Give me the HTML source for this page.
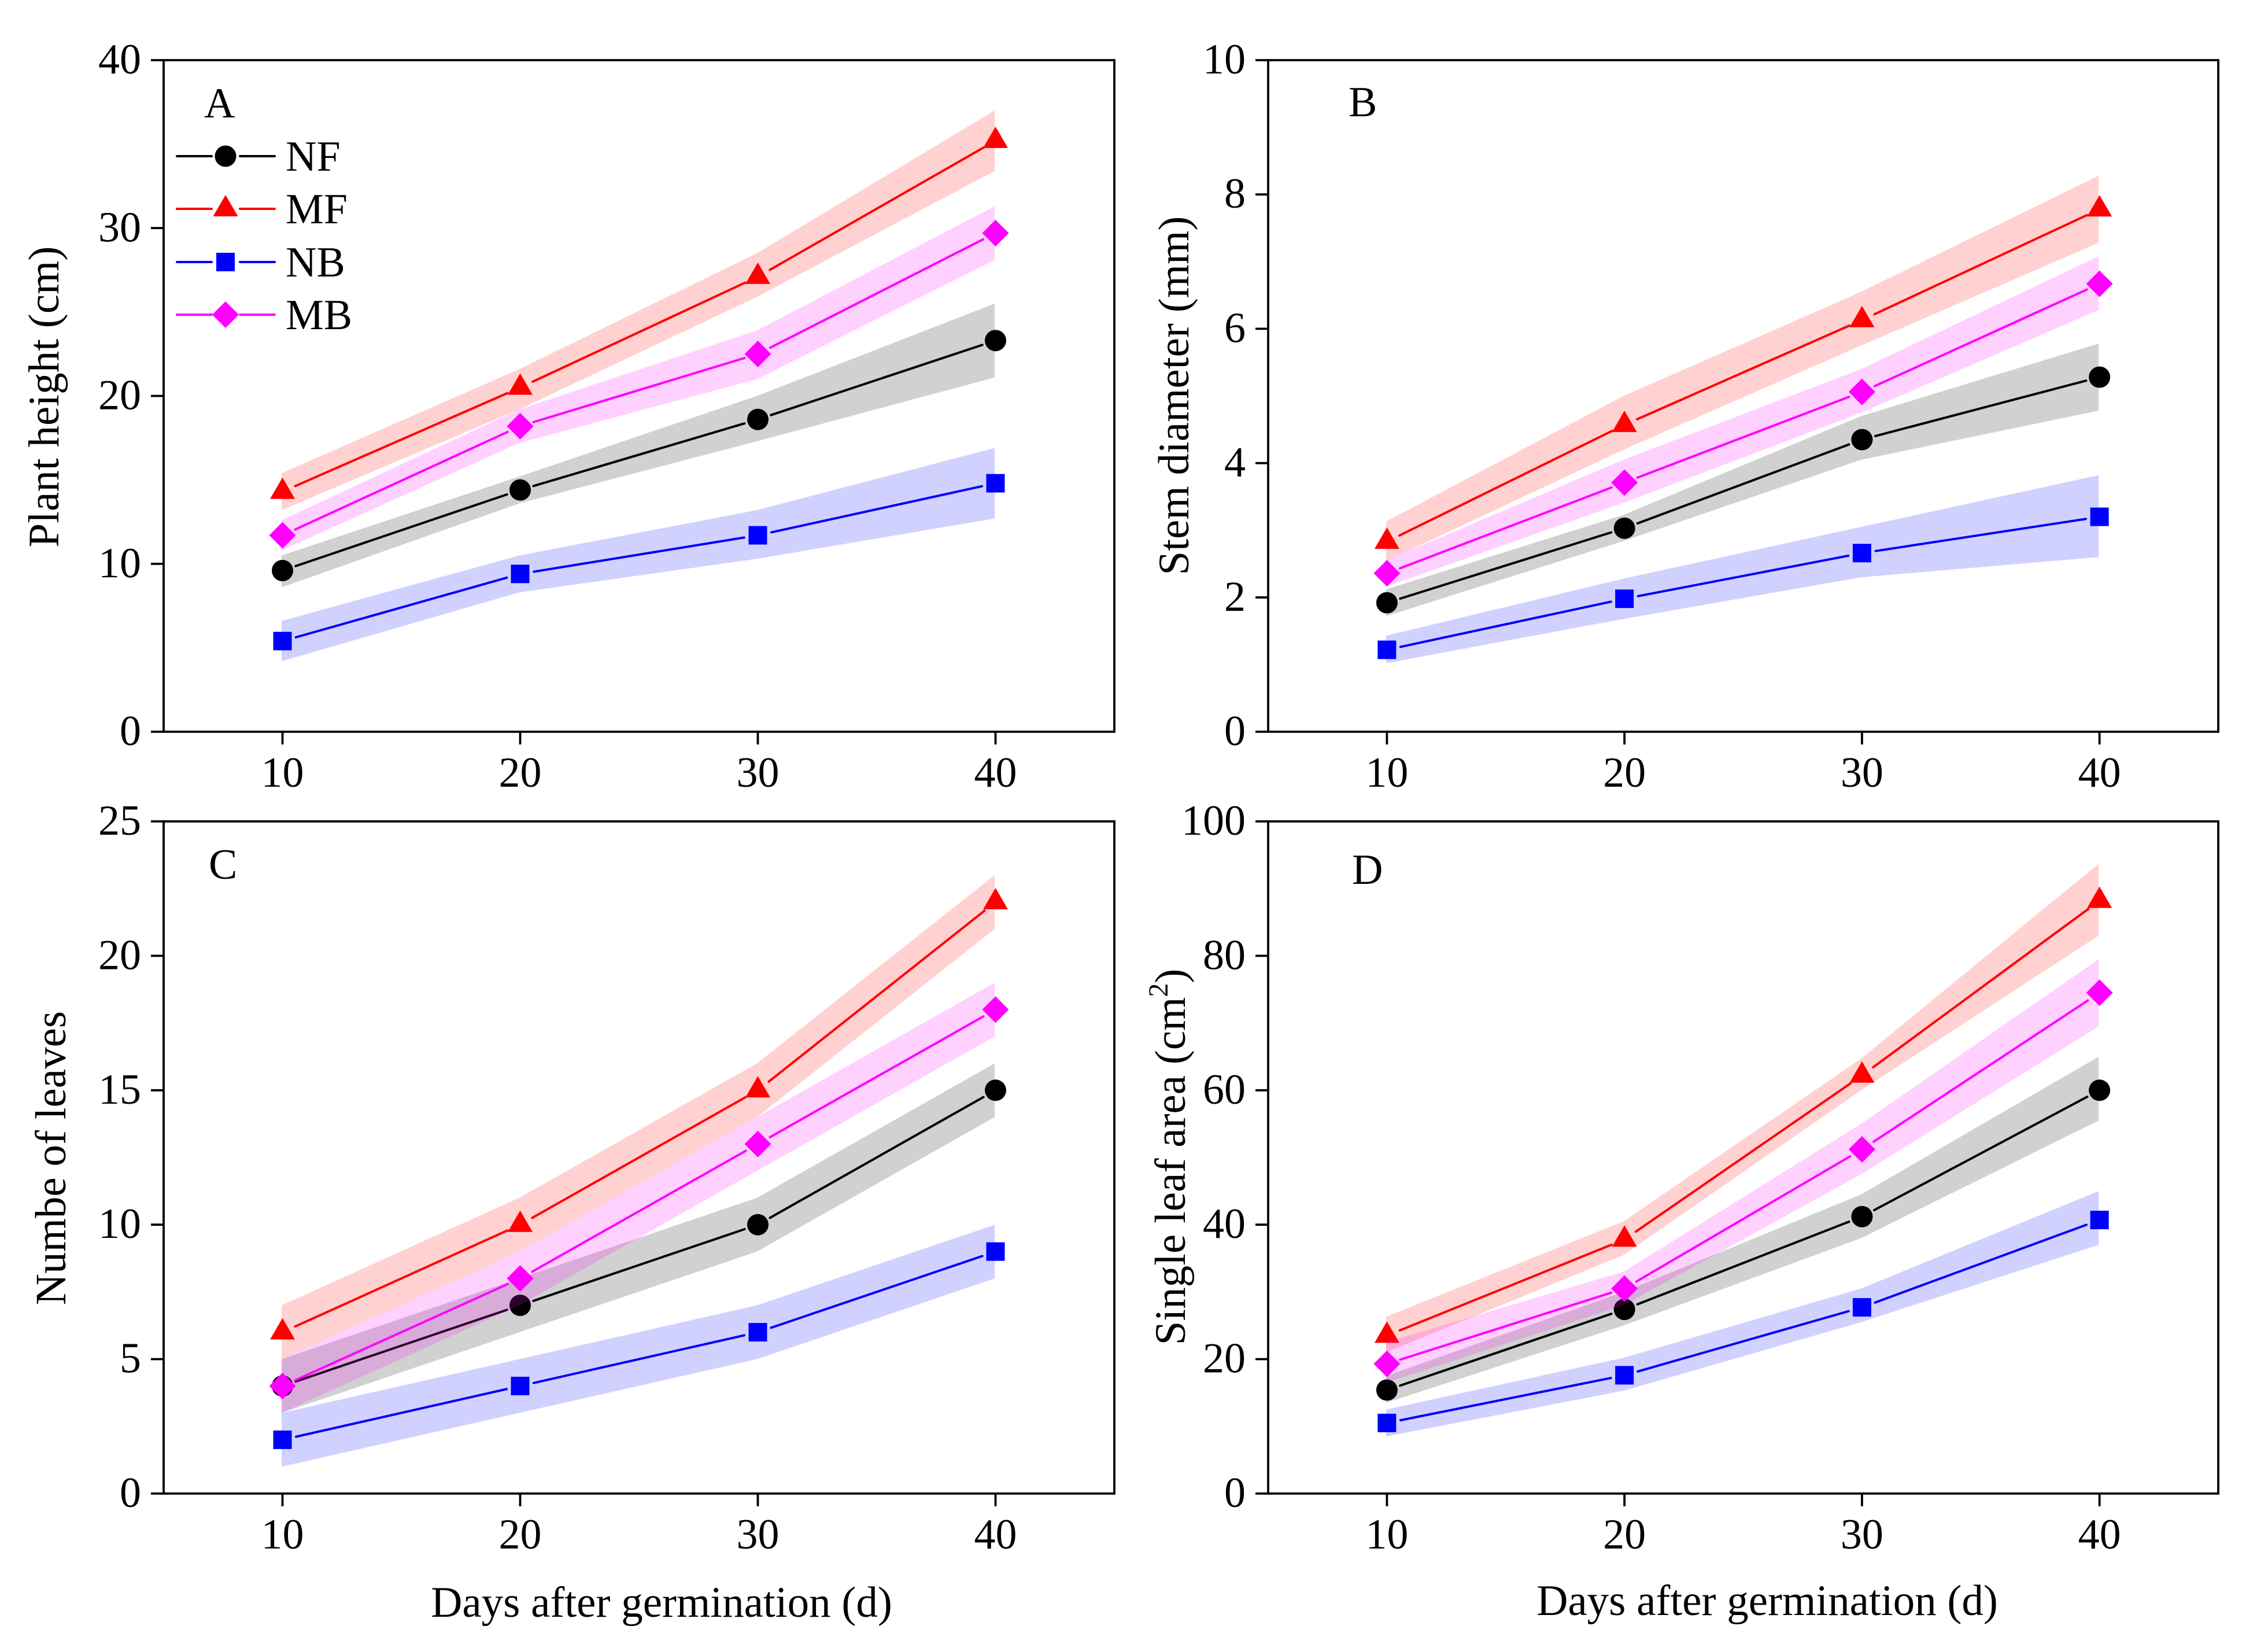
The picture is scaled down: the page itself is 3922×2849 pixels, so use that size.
<!DOCTYPE html>
<html lang="en">
<head>
<meta charset="utf-8">
<title>Growth charts</title>
<style>
html,body{margin:0;padding:0;background:#fff}
svg{display:block}
text{font-family:"Liberation Serif","Times New Roman",serif;fill:#000}
.t{font-size:74px}
.lab{font-size:75px}
</style>
</head>
<body>
<svg id="figure" xmlns="http://www.w3.org/2000/svg" width="3922" height="2849" viewBox="0 0 3922 2849">
<rect x="0" y="0" width="3922" height="2849" fill="#fff"/>
<g id="panel-a"></g>
<g id="panel-b"></g>
<g id="panel-c"></g>
<g id="panel-d"></g>

<text class="t" x="353" y="203">A</text>
<text class="t" x="2332" y="201">B</text>
<text class="t" x="361" y="1519">C</text>
<text class="t" x="2338" y="1528">D</text>

<text class="lab" text-anchor="middle" transform="translate(101 686) rotate(-90)">Plant height (cm)</text>
<text class="lab" text-anchor="middle" transform="translate(2055 684) rotate(-90)">Stem diameter (mm)</text>
<text class="lab" text-anchor="middle" transform="translate(113 2002) rotate(-90)">Numbe of leaves</text>
<text class="lab" text-anchor="middle" transform="translate(2049 2000) rotate(-90)">Single leaf area (cm<tspan font-size="48" dy="-30">2</tspan><tspan dy="30">)</tspan></text>
<text class="lab" text-anchor="middle" x="1144" y="2795">Days after germination (d)</text>
<text class="lab" text-anchor="middle" x="3056" y="2792">Days after germination (d)</text>

<g stroke-width="4" stroke-linecap="round">
  <g>
    <line x1="306" y1="270" x2="366" y2="270" stroke="#000"/><line x1="415" y1="270" x2="475" y2="270" stroke="#000"/>
    <circle cx="390" cy="270" r="18.5" fill="#000" stroke="none"/>
    <text class="t" x="494" y="295" stroke="none">NF</text>
  </g>
  <g>
    <line x1="306" y1="361" x2="366" y2="361" stroke="#f00"/><line x1="415" y1="361" x2="475" y2="361" stroke="#f00"/>
    <polygon points="390,337 411.500,374 368.500,374" fill="#f00" stroke="none"/>
    <text class="t" x="494" y="386" stroke="none">MF</text>
  </g>
  <g>
    <line x1="306" y1="453" x2="366" y2="453" stroke="#00f"/><line x1="415" y1="453" x2="475" y2="453" stroke="#00f"/>
    <rect x="374" y="437" width="32" height="32" fill="#00f" stroke="none"/>
    <text class="t" x="494" y="478" stroke="none">NB</text>
  </g>
  <g>
    <line x1="306" y1="544" x2="366" y2="544" stroke="#f0f"/><line x1="415" y1="544" x2="475" y2="544" stroke="#f0f"/>
    <polygon points="390,521 413,544 390,567 367,544" fill="#f0f" stroke="none"/>
    <text class="t" x="494" y="569" stroke="none">MB</text>
  </g>
</g>
</svg>

<script>
// Shared x categories
const days = [10, 20, 30, 40];

// Tick labels
const aTicks = [0, 10, 20, 30, 40];
const bTicks = [0, 2, 4, 6, 8, 10];
const cTicks = [0, 5, 10, 15, 20, 25];
const dTicks = [0, 20, 40, 60, 80, 100];

// Panel A: plant height
const aNF = [9.6, 14.4, 18.6, 23.3];
const aNFhi = [10.5, 15.2, 20.0, 25.5];
const aNFlo = [8.6, 13.6, 17.3, 21.1];
const aMF = [14.3, 20.5, 27.1, 35.2];
const aMFhi = [15.4, 21.6, 28.5, 37.0];
const aMFlo = [13.2, 19.2, 25.9, 33.4];
const aNB = [5.4, 9.4, 11.7, 14.8];
const aNBhi = [6.6, 10.5, 13.2, 16.9];
const aNBlo = [4.2, 8.3, 10.3, 12.7];
const aMB = [11.7, 18.2, 22.5, 29.7];
const aMBhi = [12.6, 19.2, 23.9, 31.3];
const aMBlo = [10.8, 17.2, 21.0, 28.1];

// Panel B: stem diameter
const bNF = [1.92, 3.03, 4.35, 5.28];
const bNFhi = [2.12, 3.23, 4.7, 5.78];
const bNFlo = [1.72, 2.84, 4.05, 4.78];
const bMF = [2.83, 4.57, 6.13, 7.78];
const bMFhi = [3.13, 5.0, 6.55, 8.28];
const bMFlo = [2.54, 4.2, 5.75, 7.28];
const bNB = [1.22, 1.98, 2.66, 3.2];
const bNBhi = [1.43, 2.28, 3.05, 3.82];
const bNBlo = [1.02, 1.68, 2.3, 2.6];
const bMB = [2.36, 3.71, 5.06, 6.67];
const bMBhi = [2.55, 4.05, 5.4, 7.08];
const bMBlo = [2.16, 3.41, 4.75, 6.28];

// Panel C: number of leaves
const cNF = [4, 7, 10, 15];
const cNFhi = [5, 8, 11, 16];
const cNFlo = [3, 6, 9, 14];
const cMF = [6, 10, 15, 22];
const cMFhi = [7, 11, 16, 23];
const cMFlo = [5, 9, 14, 21];
const cNB = [2, 4, 6, 9];
const cNBhi = [3, 5, 7, 10];
const cNBlo = [1, 3, 5, 8];
const cMB = [4, 8, 13, 18];
const cMBhi = [5, 9, 14, 19];
const cMBlo = [3, 7, 12, 17];

// Panel D: single leaf area
const dNF = [15.4, 27.4, 41.2, 60];
const dNFhi = [17.5, 30, 44.5, 65];
const dNFlo = [13.5, 25, 38, 55.5];
const dMF = [23.5, 37.8, 62.2, 88.2];
const dMFhi = [26.3, 40.5, 64.7, 93.7];
const dMFlo = [21, 35.5, 60, 83];
const dNB = [10.5, 17.6, 27.7, 40.7];
const dNBhi = [12.5, 20.2, 30.5, 45];
const dNBlo = [8.5, 15.3, 25.5, 37];
const dMB = [19.3, 30.5, 51.2, 74.5];
const dMBhi = [22.5, 33, 55, 79.5];
const dMBlo = [16.5, 28, 47.5, 69.5];

const NS = 'http://www.w3.org/2000/svg';
function make(parent, tag, attrs) {
  const node = document.createElementNS(NS, tag);
  for (const k in attrs) node.setAttribute(k, attrs[k]);
  parent.appendChild(node);
  return node;
}

function marker(parent, shape, cx, cy, color) {
  if (shape === 'circle') return make(parent, 'circle', {cx: cx, cy: cy, r: 18.5, fill: color});
  if (shape === 'square') return make(parent, 'rect', {x: cx - 16, y: cy - 16, width: 32, height: 32, fill: color});
  if (shape === 'triangle') return make(parent, 'polygon', {points: [cx, cy - 24.5, cx + 21.5, cy + 12.5, cx - 21.5, cy + 12.5].join(' '), fill: color});
  return make(parent, 'polygon', {points: [cx, cy - 23, cx + 23, cy, cx, cy + 23, cx - 23, cy].join(' '), fill: color});
}

function drawPanel(id, L, T, W, H, yMax, ticks, series) {
  const g = document.getElementById(id);
  const xAxis = d => L + (d - 5) * W / 40;
  const yAxis = v => T + H - v / yMax * H;

  series.forEach(s => {
    const pts = days.map((d, i) => [xAxis(d), yAxis(s.mean[i])]);
    for (let i = 0; i < pts.length - 1; i++) {
      const dx = pts[i + 1][0] - pts[i][0], dy = pts[i + 1][1] - pts[i][1];
      const len = Math.hypot(dx, dy), gap = 24;
      const seg = make(g, 'line', {
        x1: pts[i][0] + dx / len * gap, y1: pts[i][1] + dy / len * gap,
        x2: pts[i + 1][0] - dx / len * gap, y2: pts[i + 1][1] - dy / len * gap,
        stroke: s.color, 'stroke-width': 4, 'stroke-linecap': 'round'
      });
      
      
    }
    pts.forEach(p => {
      const m = marker(g, s.shape, p[0], p[1], s.color);
      
      
    });
    const up = days.map((d, i) => (xAxis(d) - 1.5) + ',' + yAxis(s.hi[i]));
    const dn = days.map((d, i) => (xAxis(d) - 1.5) + ',' + yAxis(s.lo[i])).reverse();
    const band = make(g, 'polygon', {points: up.concat(dn).join(' '), fill: s.color, 'fill-opacity': 0.18});
    
    
  });

  const frame = make(g, 'rect', {x: L, y: T, width: W, height: H, fill: 'none', stroke: '#000', 'stroke-width': 3.8});
  
  

  ticks.forEach(v => {
    const y = yAxis(v);
    const tick = make(g, 'line', {x1: L - 22, y1: y, x2: L, y2: y, stroke: '#000', 'stroke-width': 3.8});
    
    
    const label = make(g, 'text', {x: L - 39, y: y + 23, 'text-anchor': 'end', 'class': 't'});
    
    
    label.textContent = v;
  });
  days.forEach(d => {
    const x = xAxis(d);
    const tick = make(g, 'line', {x1: x, y1: T + H, x2: x, y2: T + H + 22, stroke: '#000', 'stroke-width': 3.8});
    
    
    const label = make(g, 'text', {x: x, y: T + H + 95, 'text-anchor': 'middle', 'class': 't'});
    
    
    label.textContent = d;
  });
}

function seriesOf(nf, nfh, nfl, mf, mfh, mfl, nb, nbh, nbl, mb, mbh, mbl) {
  return [
    {mean: nf, hi: nfh, lo: nfl, color: '#000000', shape: 'circle'},
    {mean: mf, hi: mfh, lo: mfl, color: '#ff0000', shape: 'triangle'},
    {mean: nb, hi: nbh, lo: nbl, color: '#0000ff', shape: 'square'},
    {mean: mb, hi: mbh, lo: mbl, color: '#ff00ff', shape: 'diamond'}
  ];
}

drawPanel('panel-a', 283, 104, 1644, 1161, 40, aTicks, seriesOf(aNF, aNFhi, aNFlo, aMF, aMFhi, aMFlo, aNB, aNBhi, aNBlo, aMB, aMBhi, aMBlo));
drawPanel('panel-b', 2193, 104, 1643, 1161, 10, bTicks, seriesOf(bNF, bNFhi, bNFlo, bMF, bMFhi, bMFlo, bNB, bNBhi, bNBlo, bMB, bMBhi, bMBlo));
drawPanel('panel-c', 283, 1420, 1644, 1162, 25, cTicks, seriesOf(cNF, cNFhi, cNFlo, cMF, cMFhi, cMFlo, cNB, cNBhi, cNBlo, cMB, cMBhi, cMBlo));
drawPanel('panel-d', 2193, 1420, 1643, 1162, 100, dTicks, seriesOf(dNF, dNFhi, dNFlo, dMF, dMFhi, dMFlo, dNB, dNBhi, dNBlo, dMB, dMBhi, dMBlo));
</script>
</body>
</html>
